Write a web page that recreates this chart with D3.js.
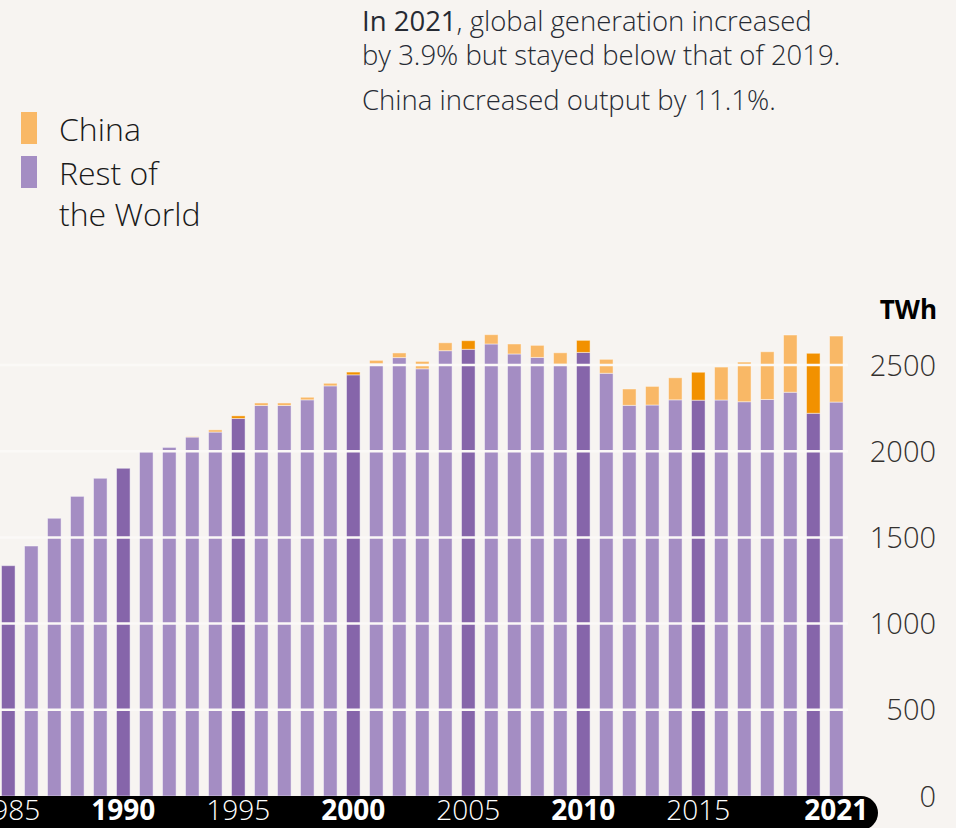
<!DOCTYPE html>
<html><head><meta charset="utf-8">
<script src="https://cdn.jsdelivr.net/npm/d3@7/dist/d3.min.js"></script>
<style>
html,body{margin:0;padding:0;background:#f7f4f1;}
svg{display:block;font-family:"Open Sans",sans-serif;}
</style></head>
<body><svg id="c" width="956" height="828"></svg>
<script>
const years = d3.range(1985, 2022);
const china = [0,0,0,0,0,0,0,0,2,13,15,15,15,15,15,16,19,27,43,46,50,54,58,70,66,70,81,95,108,128,162,191,230,277,332,348,383];
const restOfWorld = [1336,1450,1611,1738,1843,1901,1997,2022,2082,2111,2190,2265,2265,2298,2379,2443,2508,2543,2478,2583,2591,2622,2564,2544,2505,2573,2452,2266,2268,2298,2296,2297,2287,2300,2342,2220,2285];
const highlightYears = [1985,1990,1995,2000,2005,2010,2015,2020];
const yTicks = [0,500,1000,1500,2000,2500];
const xLabels = [1985,1990,1995,2000,2005,2010,2015,2021];
const boldLabels = [1990,2000,2010,2021];

const svg = d3.select("#c");
const W = 956, H = 828;
svg.append("rect").attr("width", W).attr("height", H).attr("fill", "#f7f4f1");

const x = d3.scaleBand().domain(years).range([-3.2, 847.8]).paddingInner(0.41).paddingOuter(0.205);
const y = d3.scaleLinear().domain([0, 2500]).range([796, 365]);

const rows = years.map((yr, i) => ({year: yr, China: china[i], Rest: restOfWorld[i]}));
const stack = d3.stack().keys(["Rest", "China"])(rows);

const colors = {
  Rest: {light: "#a48dc3", dark: "#8665aa"},
  China: {light: "#f9b866", dark: "#f29100"}
};

const g = svg.append("g");
stack.forEach(layer => {
  g.selectAll(null).data(layer).join("rect")
    .attr("x", d => x(d.data.year))
    .attr("width", x.bandwidth())
    .attr("y", d => y(d[1]))
    .attr("height", d => Math.max(0, y(d[0]) - y(d[1])))
    .attr("fill", d => highlightYears.includes(d.data.year) ? colors[layer.key].dark : colors[layer.key].light)
    .attr("stroke", "#ffffff").attr("stroke-opacity", 0.45).attr("stroke-width", 1);
});

// gridlines over bars
svg.append("g").selectAll("line").data(yTicks.filter(t => t > 0)).join("line")
  .attr("x1", 0).attr("x2", 848)
  .attr("y1", d => y(d)).attr("y2", d => y(d))
  .attr("stroke", "#fbf9f7").attr("stroke-width", 2.5);

// y labels
const yAxis = d3.axisRight(y).tickValues(yTicks).tickSize(0).tickFormat(d3.format("d"));
const ya = svg.append("g").attr("transform", "translate(936,0)").call(yAxis);
ya.select(".domain").remove();
ya.selectAll("text").attr("text-anchor", "end").attr("x", 0).attr("dy", "0.35em")
  .attr("font-family", "Open Sans").attr("font-size", 29).attr("font-weight", 300).attr("fill", "#33302e");

svg.append("text").attr("x", 937).attr("y", 319).attr("text-anchor", "end")
  .attr("font-size", 26).attr("font-weight", 700).attr("fill", "#000").text("TWh");

// bottom pill
const pr = 17;
svg.append("path")
  .attr("d", `M-20,796 H${878 - pr} A${pr},${pr} 0 0 1 878,${796 + pr} A${pr},${pr} 0 0 1 ${878 - pr},${796 + 2 * pr} H-20 Z`)
  .attr("fill", "#000");

const xAxis = d3.axisBottom(x).tickValues(xLabels).tickSize(0);
const xa = svg.append("g").attr("transform", "translate(0,797)").call(xAxis);
xa.select(".domain").remove();
xa.selectAll("text").attr("y", 0).attr("dy", "0.82em")
  .attr("font-family", "Open Sans").attr("font-size", 28)
  .attr("font-weight", d => boldLabels.includes(d) ? 700 : 300)
  .attr("fill", "#fff");

// legend
const legend = [{key: "China", color: colors.China.light, y: 112, lines: ["China"]},
                {key: "Rest", color: colors.Rest.light, y: 156, lines: ["Rest of", "the World"]}];
legend.forEach(l => {
  svg.append("rect").attr("x", 21).attr("y", l.y).attr("width", 16).attr("height", 32).attr("fill", l.color);
  l.lines.forEach((t, i) => {
    svg.append("text").attr("x", 59).attr("y", l.y + 29 + i * 41)
      .attr("font-size", 32).attr("font-weight", 300).attr("fill", "#1a1a1a").text(t);
  });
});

// annotation
const ann = svg.append("g").attr("font-size", 27.5).attr("fill", "#262a33");
const t1 = ann.append("text").attr("x", 362).attr("y", 31);
t1.append("tspan").attr("font-weight", 500).text("In 2021");
t1.append("tspan").attr("font-weight", 300).text(", global generation increased");
ann.append("text").attr("x", 362).attr("y", 65).attr("font-weight", 300).text("by 3.9% but stayed below that of 2019.");
ann.append("text").attr("x", 362).attr("y", 110).attr("font-weight", 300).text("China increased output by 11.1%.");
</script></body></html>
